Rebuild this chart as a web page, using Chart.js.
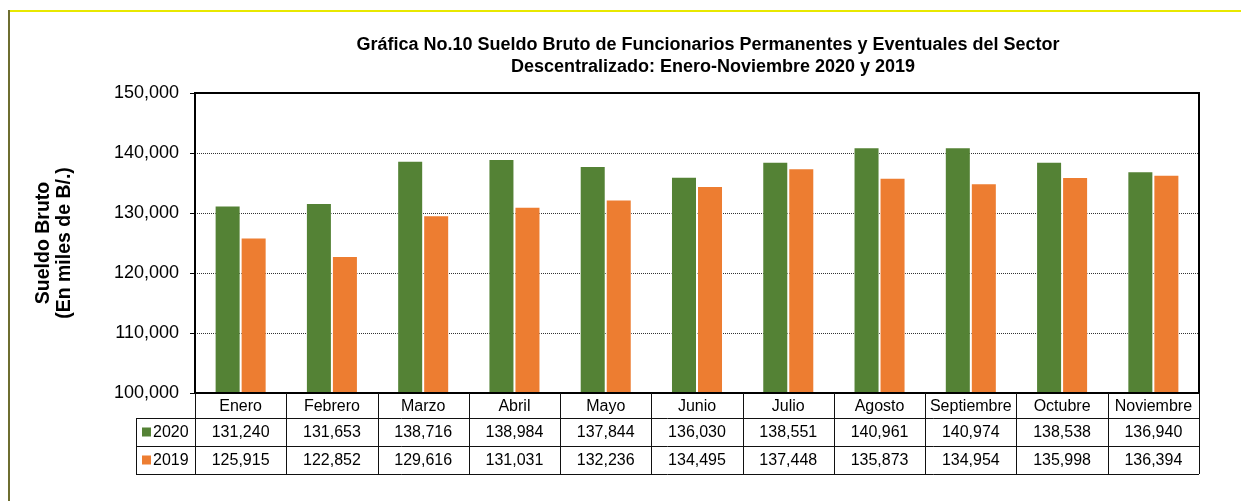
<!DOCTYPE html>
<html>
<head>
<meta charset="utf-8">
<script src="https://cdn.jsdelivr.net/npm/chart.js@4.4.1/dist/chart.umd.min.js"></script>
<style>
    html, body { margin: 0; padding: 0; background: #fff; }
    canvas { display: block; }
</style>
</head>
<body>
<canvas id="grafica" width="1241" height="501"></canvas>
<script>
const meses = ["Enero", "Febrero", "Marzo", "Abril", "Mayo", "Junio", "Julio", "Agosto", "Septiembre", "Octubre", "Noviembre"];
const sueldo2020 = [131240, 131653, 138716, 138984, 137844, 136030, 138551, 140961, 140974, 138538, 136940];
const sueldo2019 = [125915, 122852, 129616, 131031, 132236, 134495, 137448, 135873, 134954, 135998, 136394];
const series = ["2020", "2019"];
const colores = ["#548235", "#ED7D31"];
const ejeYMin = 100000;
const ejeYMax = 150000;
const ejeYPaso = 10000;
const titulo = [
    "Gráfica No.10 Sueldo Bruto de Funcionarios Permanentes y Eventuales del Sector",
    "Descentralizado: Enero-Noviembre 2020 y 2019",
];
const tituloEjeY = ["Sueldo Bruto", "(En miles de B/.)"];

const FUENTE = "'Liberation Sans', Arial, sans-serif";
const fmt = (v) => v.toLocaleString("en-US");

// marco exterior y titulo
const marcoPlugin = {
    id: "marco",
    beforeDraw(chart) {
        const ctx = chart.ctx;
        ctx.save();
        ctx.fillStyle = "#fff";
        ctx.fillRect(0, 0, chart.width, chart.height);
        ctx.lineWidth = 2;
        ctx.strokeStyle = "#e8e800";
        ctx.beginPath();
        ctx.moveTo(8, 11);
        ctx.lineTo(chart.width, 11);
        ctx.stroke();
        ctx.strokeStyle = "#6e6e30";
        ctx.beginPath();
        ctx.moveTo(9, 10);
        ctx.lineTo(9, chart.height);
        ctx.stroke();

        ctx.fillStyle = "#000";
        ctx.font = "bold 18px " + FUENTE;
        ctx.textAlign = "center";
        ctx.textBaseline = "middle";
        ctx.fillText(titulo[0], 708, 45);
        ctx.fillText(titulo[1], 713, 67);
        ctx.restore();
    },
    afterDraw(chart) {
        const ctx = chart.ctx;
        const area = chart.chartArea;
        const x = chart.scales.x;
        const anchoCat = area.width / meses.length;
        const filas = [area.bottom, 418, 446, 474];
        const izqLeyenda = 136;

        ctx.save();
        // borde del area de grafica
        ctx.strokeStyle = "#000";
        ctx.lineWidth = 2;
        ctx.strokeRect(area.left, area.top, area.width, area.height);

        // tabla de datos
        ctx.lineWidth = 1;
        ctx.strokeStyle = "#111";
        ctx.beginPath();
        for (let r = 1; r < filas.length; r++) {
            ctx.moveTo(izqLeyenda, filas[r] + 0.5);
            ctx.lineTo(area.right, filas[r] + 0.5);
        }
        ctx.moveTo(izqLeyenda + 0.5, filas[1]);
        ctx.lineTo(izqLeyenda + 0.5, filas[3]);
        for (let i = 0; i <= meses.length; i++) {
            const px = Math.round(area.left + i * anchoCat) + 0.5;
            ctx.moveTo(px, filas[0]);
            ctx.lineTo(px, filas[3]);
        }
        ctx.stroke();

        ctx.fillStyle = "#000";
        ctx.font = "16px " + FUENTE;
        ctx.textAlign = "center";
        ctx.textBaseline = "middle";
        const valores = [sueldo2020, sueldo2019];
        meses.forEach((m, i) => {
            const cx = x.getPixelForValue(i);
            ctx.fillText(m, cx, (filas[0] + filas[1]) / 2 + 1);
            valores.forEach((serie, s) => {
                ctx.fillText(fmt(serie[i]), cx, (filas[s + 1] + filas[s + 2]) / 2 + 1);
            });
        });

        // leyenda dentro de la tabla
        series.forEach((nombre, s) => {
            const cy = (filas[s + 1] + filas[s + 2]) / 2;
            ctx.fillStyle = colores[s];
            ctx.fillRect(142, cy - 4.5, 9, 9);
            ctx.fillStyle = "#000";
            ctx.textAlign = "left";
            ctx.fillText(nombre, 153, cy + 1);
        });
        ctx.restore();
    },
};

new Chart(document.getElementById("grafica"), {
    type: "bar",
    data: {
        labels: meses,
        datasets: [
            {
                label: series[0],
                data: sueldo2020,
                backgroundColor: colores[0],
                borderColor: "rgba(255,255,255,0.55)",
                borderWidth: 1,
            },
            {
                label: series[1],
                data: sueldo2019,
                backgroundColor: colores[1],
                borderColor: "rgba(255,255,255,0.55)",
                borderWidth: 1,
            },
        ],
    },
    options: {
        responsive: false,
        animation: false,
        categoryPercentage: 0.57,
        barPercentage: 1,
        layout: {
            padding: { top: 93, bottom: 108, left: 0, right: 42 },
        },
        scales: {
            x: {
                ticks: { display: false },
                grid: { display: false },
                border: { display: false },
                afterFit: (scale) => { scale.height = 0; },
            },
            y: {
                min: ejeYMin,
                max: ejeYMax,
                ticks: {
                    stepSize: ejeYPaso,
                    color: "#000",
                    padding: 11,
                    font: { family: FUENTE, size: 18 },
                    callback: (v) => fmt(v),
                },
                grid: {
                    color: "#333",
                    lineWidth: 1,
                    tickLength: 5,
                    tickColor: "#000",
                },
                border: { display: false, dash: [1, 1] },
                title: {
                    display: true,
                    text: tituloEjeY,
                    color: "#000",
                    padding: { top: 33 },
                    font: { family: FUENTE, size: 19.5, weight: "bold", lineHeight: 1.08 },
                },
                afterFit: (scale) => { scale.width = 195; },
            },
        },
        plugins: {
            legend: { display: false },
            title: { display: false },
            tooltip: { enabled: false },
        },
    },
    plugins: [marcoPlugin],
});
</script>
</body>
</html>
